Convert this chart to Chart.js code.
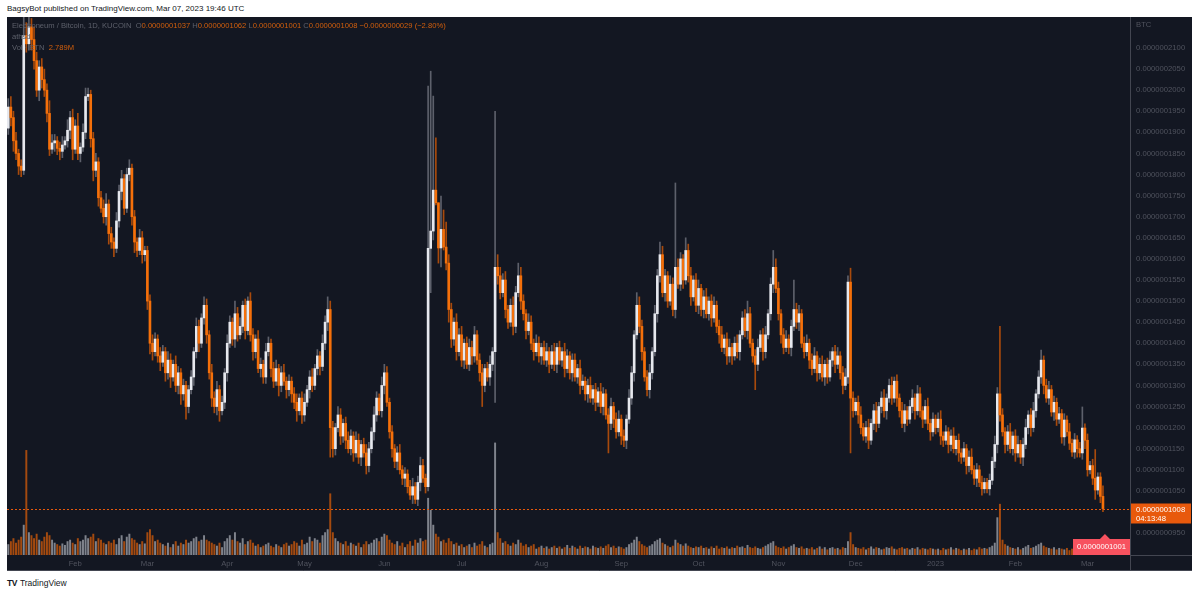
<!DOCTYPE html>
<html>
<head>
<meta charset="utf-8">
<script src="https://cdn.jsdelivr.net/npm/chart.js@4.4.0/dist/chart.umd.min.js"></script>
<style>
  body { margin: 0; width: 1200px; height: 594px; background: #fff; position: relative; overflow: hidden;
         font-family: "Liberation Sans", Arial, sans-serif; }
  #top { position: absolute; left: 7px; top: 4px; font-size: 8px; color: #131722; white-space: nowrap; }
  #panel { position: absolute; left: 7px; top: 17px; width: 1185px; height: 554px; background: #131722; }
  #legend { position: absolute; left: 5px; top: 4px; font-size: 7.6px; line-height: 10.8px; color: #5d606b; white-space: nowrap; }
  #legend .v { color: #d35f0c; }
  #foot { position: absolute; left: 7px; top: 578px; font-size: 8.5px; color: #131722; white-space: nowrap; }
  #foot b { font-weight: 900; letter-spacing: -0.5px; margin-right: 3px; }
</style>
</head>
<body>
<div id="top">BagsyBot published on TradingView.com, Mar 07, 2023 19:46 UTC</div>
<div id="panel">
  <canvas id="etnChart" width="1185" height="554"></canvas>
  <div id="legend">
    <div>Electroneum / Bitcoin, 1D, KUCOIN &nbsp;O<span class="v">0.0000001037</span> H<span class="v">0.0000001062</span> L<span class="v">0.0000001001</span> C<span class="v">0.0000001008</span> <span class="v">&minus;0.0000000029 (&minus;2.80%)</span></div>
    <div>athsd</div>
    <div>Vol · ETN &nbsp;<span class="v">2.789M</span></div>
  </div>
</div>
<div id="foot"><b>TV</b>TradingView</div>
<script>
// prices are in units of 0.0000000001 BTC, volume in millions of ETN
const startDay = Date.UTC(2022, 0, 6);
const monthNames = ['Jan', 'Feb', 'Mar', 'Apr', 'May', 'Jun', 'Jul', 'Aug', 'Sep', 'Oct', 'Nov', 'Dec'];
const firstOpen = 1910;

const closes = [
  1960,1935,1880,1850,1820,1810,2130,2110,2150,2120,
  2070,2000,2055,2025,2000,1945,1860,1875,1880,1862,
  1855,1870,1880,1905,1935,1860,1915,1850,1865,1900,
  1985,1990,1885,1810,1830,1745,1720,1700,1730,1660,
  1640,1625,1690,1760,1790,1720,1800,1815,1700,1640,
  1620,1650,1610,1620,1500,1400,1380,1410,1370,1355,
  1380,1330,1360,1320,1350,1300,1330,1280,1300,1250,
  1290,1320,1380,1440,1400,1460,1490,1420,1330,1270,
  1250,1290,1240,1260,1330,1400,1450,1410,1470,1420,
  1440,1490,1430,1500,1420,1380,1410,1340,1350,1320,
  1380,1400,1340,1310,1340,1300,1330,1310,1290,1310,
  1280,1260,1240,1270,1230,1260,1290,1320,1300,1340,
  1370,1345,1400,1450,1480,1200,1150,1200,1230,1180,
  1210,1170,1150,1180,1140,1170,1130,1160,1140,1110,
  1150,1190,1230,1270,1240,1300,1330,1260,1190,1150,
  1120,1140,1100,1080,1090,1060,1040,1060,1030,1070,
  1110,1080,1060,1625,1666,1763,1733,1626,1670,1628,
  1590,1480,1410,1450,1380,1420,1360,1400,1350,1390,
  1370,1420,1360,1330,1300,1340,1320,1350,1380,1580,
  1560,1520,1550,1480,1450,1490,1440,1520,1560,1500,
  1470,1430,1450,1400,1380,1400,1370,1390,1360,1380,
  1350,1380,1350,1390,1360,1380,1340,1370,1330,1360,
  1320,1340,1300,1310,1280,1300,1270,1290,1260,1285,
  1250,1280,1230,1210,1250,1220,1190,1220,1180,1170,
  1220,1270,1330,1420,1490,1440,1380,1320,1290,1330,
  1380,1470,1560,1610,1520,1560,1500,1540,1480,1580,
  1540,1600,1550,1620,1560,1510,1550,1490,1530,1480,
  1510,1470,1500,1460,1490,1440,1420,1390,1410,1370,
  1390,1370,1400,1380,1420,1460,1430,1470,1400,1370,
  1350,1390,1420,1380,1420,1470,1540,1580,1530,1470,
  1420,1390,1410,1390,1440,1480,1450,1470,1400,1380,
  1400,1360,1340,1370,1330,1350,1320,1350,1320,1360,
  1380,1350,1370,1330,1300,1320,1545,1270,1240,1260,
  1230,1200,1180,1200,1170,1210,1240,1210,1250,1270,
  1240,1270,1300,1270,1310,1270,1240,1210,1240,1220,
  1250,1270,1240,1280,1240,1220,1250,1210,1190,1220,
  1200,1220,1180,1170,1190,1160,1180,1150,1170,1140,
  1130,1150,1110,1130,1100,1080,1100,1070,1055,1070,
  1055,1075,1120,1160,1280,1230,1190,1160,1190,1150,
  1180,1140,1160,1130,1160,1200,1230,1200,1240,1280,
  1320,1360,1300,1270,1290,1237,1260,1220,1233,1178,
  1218,1190,1163,1142,1171,1150,1140,1199,1170,1100,
  1110,1080,1052,1083,1037,1008
];

// wick lengths above / below the candle body
const upperWick = [
  20,25,15,20,10,15,50,30,25,20, 30,20,15,20,25,15,30,20,15,10,
  15,20,10,25,15,20,15,30,10,20, 20,15,10,15,20,10,15,20,25,10,
  15,10,20,15,20,10,15,20,10,15, 10,20,15,10,10,15,20,15,10,20,
  15,10,20,15,10,20,15,10,15,10, 10,15,10,20,15,10,20,15,10,20,
  15,20,10,15,10,20,15,10,30,15, 20,10,15,10,20,15,10,20,15,10,
  20,15,10,15,20,10,15,20,10,15, 10,15,20,10,15,20,10,15,20,10,
  15,10,20,15,30,20,15,10,20,15, 10,15,20,15,10,20,15,10,15,20,
  15,10,20,15,10,20,20,15,10,15, 10,15,20,10,15,10,15,20,10,15,
  20,15,10,385,379,223,124,0,79,46, 59,20,15,10,20,15,20,10,15,20,
  15,20,10,15,20,10,15,20,10,370, 30,20,15,20,10,15,20,15,30,20,
  15,10,20,15,10,20,15,10,15,20, 10,15,20,10,15,10,20,15,10,15,
  15,10,20,15,10,15,20,10,15,10, 20,15,10,15,20,10,15,20,10,15,
  10,20,15,10,30,20,15,10,15,20, 10,20,15,30,20,15,10,20,15,200,
  20,15,10,30,15,20,10,15,20,10, 15,20,10,15,20,10,15,20,10,15,
  20,10,15,20,10,15,20,30,15,10, 15,20,10,15,20,10,15,40,20,15,
  10,15,20,10,15,70,15,20,10,15, 20,10,15,20,10,15,20,10,15,20,
  10,15,20,10,15,20,15,33,15,10, 15,20,10,15,20,10,15,20,10,15,
  20,10,15,20,10,15,10,20,15,10, 15,20,10,20,15,10,15,20,10,15,
  10,15,20,10,15,10,15,20,10,15, 10,15,10,15,20,10,15,10,15,10,
  10,15,10,20,15,160,15,10,15,20, 10,15,20,10,15,20,10,15,20,10,
  15,24,10,15,20,10,15,10,15,10, 15,10,20,10,15,10,15,50,10,15,
  10,15,68,10,10,25
];

const lowerWick = [
  15,20,25,15,20,15,10,20,15,25, 20,15,25,20,15,20,15,10,20,15,
  20,15,10,15,20,25,10,15,20,10, 15,10,20,25,15,20,10,15,20,25,
  15,20,10,15,20,15,10,15,20,25, 15,10,20,15,20,25,20,10,15,20,
  10,20,15,25,10,15,20,25,15,30, 15,10,20,15,20,10,15,20,15,20,
  15,20,25,10,15,20,10,15,20,15, 10,15,20,10,15,20,15,10,20,15,
  15,10,20,15,10,25,15,10,20,15, 20,15,25,10,20,15,10,20,15,10,
  15,20,10,15,20,70,20,15,10,20, 15,20,10,15,20,10,15,20,10,20,
  15,10,20,15,10,15,20,10,15,20, 15,20,10,15,20,15,10,20,10,15,
  20,10,15,10,105,21,5,36,45,7, 16,30,20,15,20,10,15,20,10,15,
  20,15,10,20,50,15,10,20,15,120, 20,15,10,20,15,10,20,15,10,20,
  15,20,10,15,20,10,15,20,10,15, 20,10,15,20,10,15,20,10,15,20,
  10,15,20,10,15,20,10,15,20,10, 15,20,10,70,15,20,15,10,20,15,
  20,10,15,20,10,15,20,10,15,20, 15,10,20,15,10,20,15,10,15,20,
  10,15,20,10,15,20,10,15,20,15, 20,10,15,20,10,15,20,10,15,20,
  15,20,10,15,20,10,15,20,10,15, 60,15,10,20,15,10,15,20,10,15,
  20,15,10,15,20,10,15,20,10,15, 10,20,15,10,20,15,10,20,15,10,
  15,20,10,15,20,10,15,130,15,10, 20,15,10,15,20,10,15,20,10,15,
  15,20,10,15,10,20,15,10,20,15, 10,15,20,10,15,20,10,15,20,10,
  15,10,20,15,10,20,15,10,15,20, 15,10,20,15,10,15,20,10,15,10,
  10,15,10,15,20,15,10,20,15,10, 15,20,10,15,20,10,15,20,10,15,
  10,15,20,10,15,10,20,15,10,15, 20,10,15,10,15,20,10,15,20,15,
  10,15,22,10,15,7
];

const volumes = [
  14,18,22,16,20,24,40,140,30,26, 22,28,20,18,24,30,26,20,16,14,
  12,15,13,18,20,16,14,22,18,20, 26,22,24,28,18,22,20,16,14,18,
  16,20,14,22,26,18,24,28,22,20, 16,14,18,15,30,34,26,18,20,16,
  14,12,16,10,14,18,12,16,14,20, 16,18,22,24,18,20,26,20,18,16,
  14,12,16,10,18,22,26,20,30,18, 16,22,14,18,20,16,12,14,10,12,
  14,16,12,10,14,12,10,14,16,12, 14,18,16,12,20,14,16,24,18,22,
  20,16,26,30,34,82,30,22,18,16, 14,18,12,16,14,12,16,10,14,18,
  14,16,20,22,18,24,28,26,20,16, 14,18,12,16,10,14,18,12,20,16,
  22,18,20,76,60,40,28,24,18,20, 16,22,18,14,16,12,14,10,12,14,
  10,16,12,14,18,12,10,14,16,150, 30,22,16,18,14,12,16,14,20,16,
  12,14,10,12,14,8,10,12,9,11, 8,10,12,9,11,8,10,13,9,12,
  10,8,12,9,11,10,8,12,10,9, 11,9,12,14,10,12,9,11,10,8,
  10,14,16,20,24,18,14,12,10,12, 14,18,20,22,16,14,12,10,12,20,
  16,14,12,15,12,10,9,11,10,12, 9,10,8,11,9,12,8,10,9,11,
  8,10,9,12,10,11,9,13,10,9, 11,9,8,10,12,14,16,18,12,10,
  9,11,8,10,12,14,10,9,11,8, 9,8,10,7,9,11,8,10,7,9,
  10,8,9,7,10,9,18,30,14,10, 9,8,10,7,9,11,8,10,9,7,
  8,10,9,11,8,7,9,10,8,9, 7,9,8,10,7,9,8,7,9,8,
  7,8,6,9,7,8,10,7,9,8, 6,8,7,9,6,8,7,10,8,9,
  8,10,12,16,50,68,20,14,12,10, 9,8,10,7,9,11,13,9,10,12,
  14,16,12,10,9,8,10,7,9,8, 7,9,6,8,7,6,8,10,7,9,
  6,8,7,6,5,2.789
];

const emptyDays = 10;

// colours
const upBody = '#e6e8ee', downBody = '#f5700a';
const upWick = '#5d606b', downWick = '#a84a0c';
const upVol = 'rgba(200,203,212,0.6)', downVol = 'rgba(214,92,10,0.75)';
const axisText = '#50535e';

// build candles
const opens = closes.map((c, i) => i === 0 ? firstOpen : closes[i - 1]);
const highs = closes.map((c, i) => Math.max(opens[i], c) + upperWick[i]);
const lows = closes.map((c, i) => Math.min(opens[i], c) - lowerWick[i]);
const isUp = closes.map((c, i) => c >= opens[i]);

const days = [];
for (let i = 0; i < closes.length + emptyDays; i++) {
  days.push(new Date(startDay + i * 86400000));
}
const dayLabels = days.map(d => d.toISOString().slice(0, 10));
const tickText = days.map(d => {
  if (d.getUTCDate() !== 1) return '';
  return d.getUTCMonth() === 0 ? String(d.getUTCFullYear()) : monthNames[d.getUTCMonth()];
});

function priceText(v) {
  return '0.000000' + String(Math.round(v)).padStart(4, '0');
}

const lastClose = closes[closes.length - 1];
const lastLow = lows[lows.length - 1];

const overlay = {
  id: 'overlay',
  afterDraw(chart) {
    const { ctx, chartArea: a, scales: { x, y } } = chart;
    const W = chart.width, H = chart.height;
    ctx.save();
    // cover the corner under the price scale
    ctx.fillStyle = '#131722';
    ctx.fillRect(a.right + 1, a.bottom, W - a.right, H - a.bottom);

    // last price dotted line
    const py = Math.round(y.getPixelForValue(lastClose)) + 0.5;
    ctx.strokeStyle = '#e8590c';
    ctx.lineWidth = 1;
    ctx.setLineDash([2, 2]);
    ctx.beginPath();
    ctx.moveTo(a.left, py);
    ctx.lineTo(a.right, py);
    ctx.stroke();
    ctx.setLineDash([]);

    // scale borders
    ctx.strokeStyle = '#434651';
    ctx.beginPath();
    ctx.moveTo(Math.round(a.right) + 0.5, 0);
    ctx.lineTo(Math.round(a.right) + 0.5, H);
    ctx.moveTo(a.right, Math.round(a.bottom) + 0.5);
    ctx.lineTo(W, Math.round(a.bottom) + 0.5);
    ctx.moveTo(0, H - 0.5);
    ctx.lineTo(W, H - 0.5);
    ctx.stroke();

    ctx.font = '7.7px "Liberation Sans", Arial, sans-serif';
    ctx.textBaseline = 'middle';

    // currency name on top of the scale
    ctx.fillStyle = axisText;
    ctx.textAlign = 'left';
    ctx.fillText('BTC', a.right + 6, 8);

    // last price tag
    ctx.fillStyle = '#e8590c';
    ctx.fillRect(a.right + 1, py - 6, W - a.right - 2, 20);
    ctx.fillStyle = '#ffffff';
    ctx.fillText(priceText(lastClose), a.right + 6, py);
    ctx.fillText('04:13:48', a.right + 6, py + 9);

    // low marker
    const lx = x.getPixelForValue(closes.length - 1) + 2;
    const boxL = a.right - 57, boxT = a.bottom - 16;
    ctx.fillStyle = '#f7525f';
    ctx.fillRect(boxL, boxT, a.right - boxL, 16);
    ctx.beginPath();
    ctx.moveTo(lx - 5, boxT);
    ctx.lineTo(lx, boxT - 5);
    ctx.lineTo(lx + 5, boxT);
    ctx.closePath();
    ctx.fill();
    ctx.fillStyle = '#ffffff';
    ctx.textAlign = 'center';
    ctx.fillText(priceText(lastLow), (boxL + a.right) / 2, boxT + 8);
    ctx.restore();
  }
};

const ctx = document.getElementById('etnChart').getContext('2d');
const etnChart = new Chart(ctx, {
  type: 'bar',
  data: {
    labels: dayLabels,
    datasets: [
      {
        label: 'body',
        data: closes.map((c, i) => [opens[i], c]),
        backgroundColor: isUp.map(u => u ? upBody : downBody),
        barThickness: 2,
        minBarLength: 1,
        grouped: false,
        order: 0,
        yAxisID: 'y'
      },
      {
        label: 'wick',
        data: closes.map((c, i) => [lows[i], highs[i]]),
        backgroundColor: isUp.map(u => u ? upWick : downWick),
        barThickness: 1,
        grouped: false,
        order: 1,
        yAxisID: 'y'
      },
      {
        label: 'volume',
        data: volumes,
        backgroundColor: isUp.map(u => u ? upVol : downVol),
        barThickness: 1.3,
        grouped: false,
        order: 2,
        yAxisID: 'vol'
      }
    ]
  },
  options: {
    responsive: false,
    animation: false,
    devicePixelRatio: 1,
    layout: { padding: 0 },
    plugins: { legend: { display: false }, tooltip: { enabled: false } },
    scales: {
      x: {
        offset: true,
        grid: { display: false, drawTicks: false },
        border: { display: false },
        ticks: {
          autoSkip: false, maxRotation: 0, minRotation: 0, padding: 4,
          color: axisText, font: { size: 7.7, family: '"Liberation Sans", Arial, sans-serif' },
          callback: (v, i) => tickText[i]
        },
        afterFit: s => { s.height = 16; s.paddingLeft = 0; s.paddingRight = 0; }
      },
      y: {
        position: 'right',
        min: 898,
        max: 2173.5,
        grid: { display: false, drawTicks: false },
        border: { display: false },
        ticks: {
          stepSize: 50, autoSkip: false, padding: 6,
          color: axisText, font: { size: 7.7, family: '"Liberation Sans", Arial, sans-serif' },
          callback: v => priceText(v)
        },
        afterBuildTicks: s => {
          s.ticks = s.ticks.filter(t => Math.abs(t.value % 50) < 1e-6 && t.value <= 2100);
        },
        afterFit: s => { s.width = 62; s.paddingTop = 0; s.paddingBottom = 0; }
      },
      vol: {
        display: false,
        min: 0,
        max: 720
      }
    }
  },
  plugins: [overlay]
});
</script>
</body>
</html>
